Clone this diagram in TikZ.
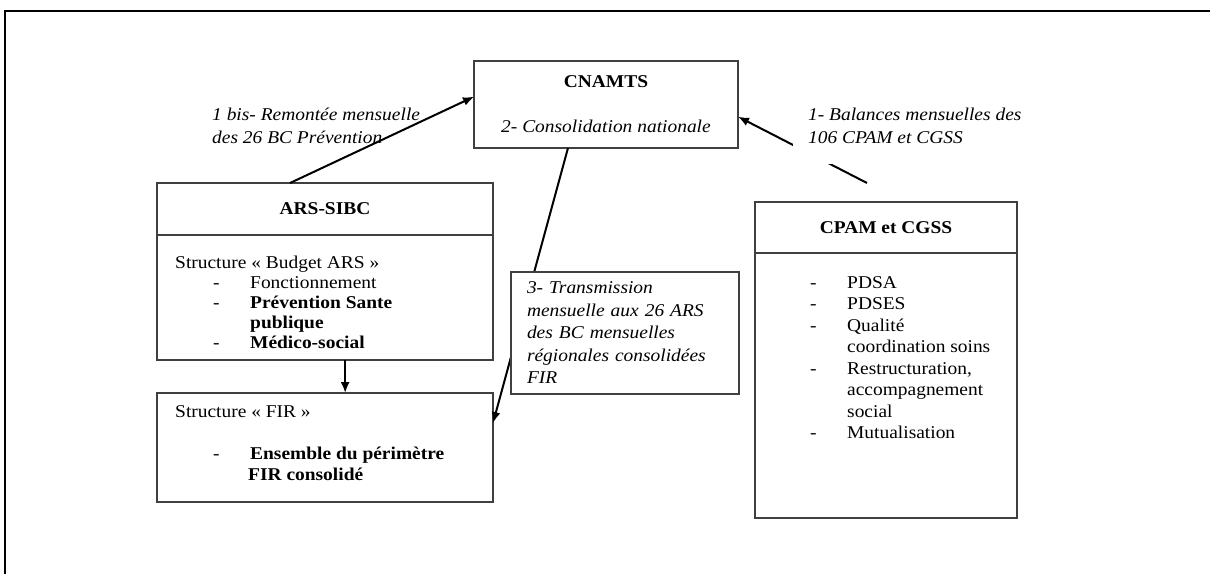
\documentclass[tikz,border=0pt]{standalone}
\usepackage{fontspec}
\setmainfont{Liberation Serif}[FakeStretch=1.08]
\usetikzlibrary{positioning,calc,arrows.meta}

\newcommand{\dashitem}[2][0pt]{\hspace*{#1}\makebox[37pt][l]{-}#2}
\newcommand{\contline}[2][0pt]{\hspace*{\dimexpr#1+37pt\relax}#2}

\begin{document}
\begin{tikzpicture}[
    x=1pt, y=-1pt,
    box/.style={rectangle, draw=black!75, line width=1.6pt, fill=white, inner sep=0pt, outer sep=0pt, align=center, font=\fontsize{18}{21}\selectfont},
    txt/.style={anchor=north west, inner sep=0pt, align=left, font=\fontsize{18}{21}\selectfont},
    note/.style={anchor=north west, inner sep=0pt, align=left, font=\fontsize{18}{23}\selectfont\itshape},
    arrow/.style={-{Latex[length=11pt,width=9pt]}, line width=2pt}
]
\useasboundingbox (0,0) rectangle (1210,574);

% Frame
\draw[line width=2pt] (5,574) -- (5,11) -- (1210,11);

% CNAMTS
\node[box, minimum width=264pt, minimum height=87pt] (cnamts) at (606,104.5) {\textbf{CNAMTS}\\[24pt]\textit{2- Consolidation nationale}};

% ARS-SIBC
\node[box, minimum width=336pt, minimum height=52pt] (ars) at (325,209) {\textbf{ARS-SIBC}};
\node[box, minimum width=336pt, minimum height=125pt, below=0pt of ars] (arsbody) {};
\node[txt, font=\fontsize{18}{20}\selectfont] (arslist) at ([xshift=18pt,yshift=-21pt]arsbody.north west) {%
    Structure «~Budget ARS~»\\
    \dashitem[38pt]{Fonctionnement}\\
    \dashitem[38pt]{\textbf{Prévention Sante}}\\
    \contline[38pt]{\textbf{publique}}\\
    \dashitem[38pt]{\textbf{Médico-social}}};

% FIR
\node[box, minimum width=336pt, minimum height=109pt] (fir) at (325,447.5) {};
\node[txt] (firlist) at ([xshift=18pt,yshift=-12pt]fir.north west) {%
    Structure «~FIR~»\\[21pt]
    \dashitem[38pt]{\textbf{Ensemble du périmètre}}\\
    \contline[36pt]{\textbf{FIR consolidé}}};

% CPAM et CGSS
\node[box, minimum width=262pt, minimum height=51pt] (cpam) at (886,227.5) {\textbf{CPAM et CGSS}};
\node[box, minimum width=262pt, minimum height=265pt, below=0pt of cpam] (cpambody) {};
\node[txt, font=\fontsize{18}{21.5}\selectfont] (cpamlist) at ([xshift=55pt,yshift=-23pt]cpambody.north west) {%
    \dashitem{PDSA}\\
    \dashitem{PDSES}\\
    \dashitem{Qualité}\\
    \contline{coordination soins}\\
    \dashitem{Restructuration,}\\
    \contline{accompagnement}\\
    \contline{social}\\
    \dashitem{Mutualisation}};

% Arrow ends
\coordinate (arsup) at ($(ars.north west)!0.396!(ars.north east)$);
\coordinate (cnamtsleft) at ($(cnamts.north west)!0.41!(cnamts.south west)$);
\coordinate (arsout) at ($(arsbody.south west)!0.56!(arsbody.south east)$);
\coordinate (cnamtsdown) at ($(cnamts.south west)!0.356!(cnamts.south east)$);
\coordinate (firright) at ($(fir.north east)!0.275!(fir.south east)$);
\coordinate (cpamtail) at ([xshift=-19pt,yshift=19pt]cpam.north);
\coordinate (cnamtsright) at ($(cnamts.north east)!0.64!(cnamts.south east)$);

% Arrows
\draw[arrow] (arsup) -- (cnamtsleft);
\draw[arrow] (arsout) -- (arsout |- fir.north);
\draw[arrow] (cnamtsdown) -- (firright);
\draw[arrow] (cpamtail) -- (cnamtsright);

% Labels
\node[note] (remontee) at (212,108) {1 bis- Remontée mensuelle\\des 26 BC Prévention};
\node[note, fill=white, inner xsep=15pt, inner ysep=20pt] (balances) at (793,88) {1- Balances mensuelles des\\106 CPAM et CGSS};
\node[box, text width=196pt, inner xsep=16pt, minimum height=122pt, align=left, font=\fontsize{18}{22.5}\selectfont\itshape] (transm) at (625,333) {3- Transmission\\mensuelle aux 26 ARS\\des BC mensuelles\\régionales consolidées\\FIR};

\end{tikzpicture}
\end{document}
